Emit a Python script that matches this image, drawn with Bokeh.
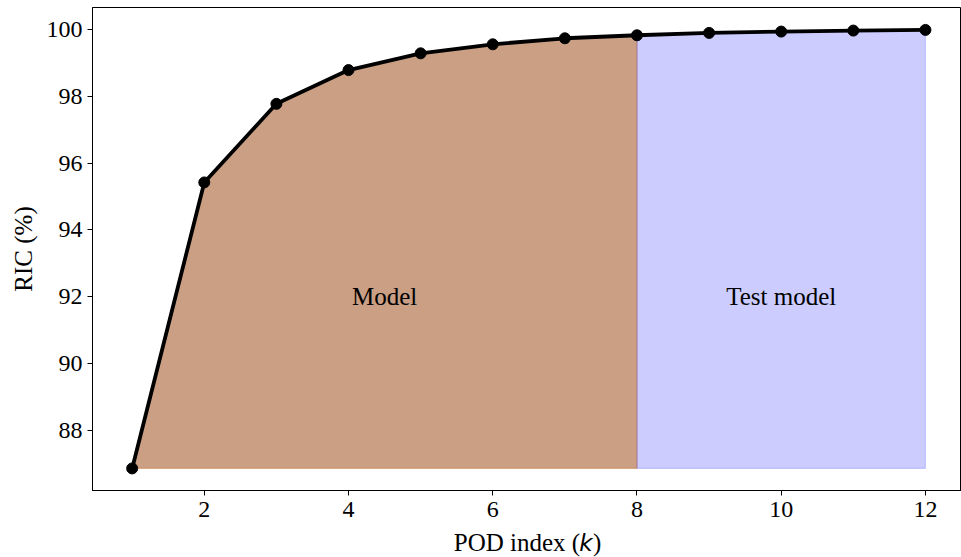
from bokeh.plotting import figure
from bokeh.models import Range1d, Label, FixedTicker
from bokeh.layouts import column
from bokeh.core.properties import value
from bokeh.embed import file_html
from bokeh.resources import INLINE

k = [1, 2, 3, 4, 5, 6, 7, 8, 9, 10, 11, 12]
ric = [86.87, 95.42, 97.77, 98.78, 99.28, 99.55, 99.73, 99.82, 99.89, 99.93, 99.96, 99.98]
split_k = 8
x_ticks = [2, 4, 6, 8, 10, 12]
y_ticks = [88, 90, 92, 94, 96, 98, 100]
region_labels = ["Model", "Test model"]
region_label_pos = [(4.5, 92.0), (10.0, 92.0)]
x_label_parts = ["POD index (", "k", ")"]

SERIF = "Liberation Serif"
FS = "24px"

xr = Range1d(0.45, 12.5)
p = figure(width=961, height=530, output_backend="svg", toolbar_location=None,
           x_range=xr, y_range=Range1d(86.21, 100.65),
           min_border_left=92, min_border_right=0, min_border_top=7, min_border_bottom=40)
p.xgrid.visible = False
p.ygrid.visible = False
p.outline_line_color = "black"
p.outline_line_width = 1
p.background_fill_color = "white"
p.border_fill_color = "white"

base = min(ric)
idx = k.index(split_k)
mx = k[:idx + 1]
my = ric[:idx + 1]
p.patch(mx + mx[::-1], my + [base] * len(mx), fill_color="#CA9F84", fill_alpha=1.0,
        line_color="#cf8a55", line_alpha=0.55, line_width=1.2)
tx = k[idx:]
ty = ric[idx:]
p.patch(tx + tx[::-1], ty + [base] * len(tx), fill_color="blue", fill_alpha=0.2,
        line_color="blue", line_alpha=0.15, line_width=1.2)

p.line(k, ric, line_color="black", line_width=3.8)
p.scatter(k, ric, size=11, fill_color="black", line_color="black")

for txt, (lx, ly) in zip(region_labels, region_label_pos):
    p.add_layout(Label(x=lx, y=ly, text=txt, text_align="center", text_baseline="middle",
                       text_font=SERIF, text_font_size="25px", text_color="black"))

for ax in (p.xaxis[0], p.yaxis[0]):
    ax.axis_line_color = "black"
    ax.major_tick_line_color = "black"
    ax.major_tick_out = 5
    ax.major_tick_in = 0
    ax.minor_tick_line_color = None
    ax.major_label_text_font = SERIF
    ax.major_label_text_font_size = FS
    ax.major_label_text_color = "black"
    ax.axis_label_text_font = SERIF
    ax.axis_label_text_font_size = "25px"
    ax.axis_label_text_font_style = "normal"
    ax.axis_label_text_color = "black"

p.xaxis[0].ticker = FixedTicker(ticks=x_ticks)
p.yaxis[0].ticker = FixedTicker(ticks=y_ticks)
p.yaxis[0].axis_label = "RIC (%)"
p.yaxis[0].axis_label_standoff = 7
p.xaxis[0].major_label_standoff = 6

# x-axis title strip (mixed fonts: serif text with italic sans k)
q = figure(width=961, height=27, output_backend="svg", toolbar_location=None,
           x_range=xr, y_range=Range1d(0, 1),
           min_border_left=92, min_border_right=0, min_border_top=0, min_border_bottom=0)
q.axis.visible = False
q.grid.visible = False
q.outline_line_color = None
q.border_fill_color = "white"
q.background_fill_color = "white"
q.text(x=[5.46], y=[0.55], text=[x_label_parts[0]], text_align="left", text_baseline="middle",
       text_font=value(SERIF), text_font_size="25px", text_color="black")
q.text(x=[7.2], y=[0.55], text=[x_label_parts[1]], text_align="left", text_baseline="middle",
       text_font=value("DejaVu Sans"), text_font_style="italic", text_font_size="23px",
       text_color="black")
q.text(x=[7.39], y=[0.55], text=[x_label_parts[2]], text_align="left", text_baseline="middle",
       text_font=value(SERIF), text_font_size="25px", text_color="black")

layout = column(p, q, spacing=0)
open("out.html", "w").write(file_html(layout, INLINE))
